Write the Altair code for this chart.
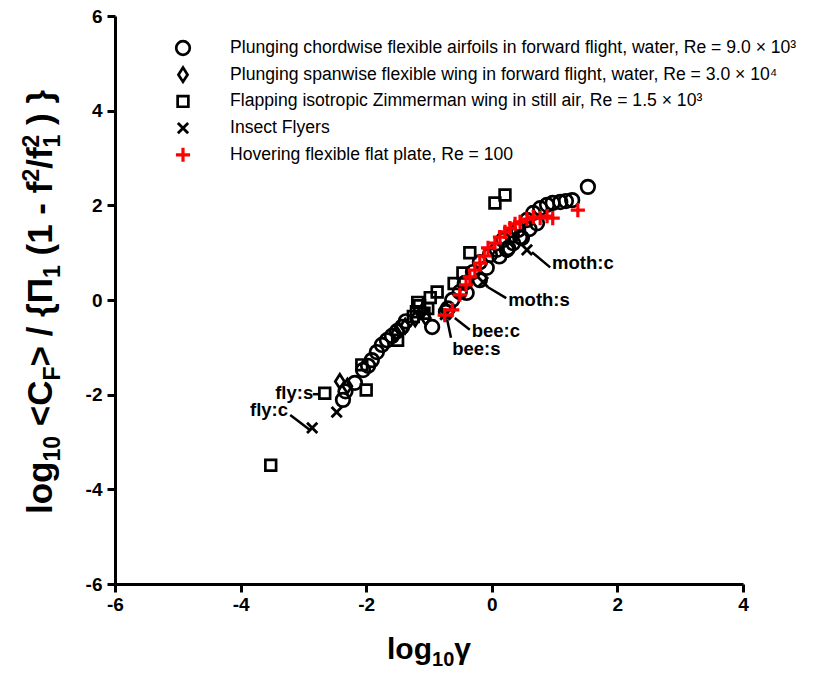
import altair as alt
import pandas as pd

# ---------------- data ----------------
x_ticks = [-6, -4, -2, 0, 2, 4]
y_ticks = [-6, -4, -2, 0, 2, 4, 6]

circ_x = [-2.37, -2.33, -2.18, -2.05, -1.97, -1.91, -1.83, -1.75, -1.67, -1.59, -1.51, -1.43,
          -1.37, -0.95, -0.73, -0.70, -0.63, -0.51, -0.43, -0.40, -0.30, -0.19, -0.19, -0.08,
          -0.03, 0.08, 0.12, 0.18, 0.24, 0.26, 0.32, 0.34, 0.42, 0.45, 0.48, 0.56, 0.60, 0.66,
          0.72, 0.77, 0.88, 0.97, 1.09, 1.18, 1.28, 1.53]
circ_y = [-2.11, -1.93, -1.75, -1.48, -1.39, -1.27, -1.10, -0.95, -0.85, -0.76, -0.66, -0.57,
          -0.45, -0.57, -0.25, -0.18, 0.00, 0.17, 0.36, 0.15, 0.59, 0.80, 0.42, 0.68,
          0.95, 1.06, 0.92, 1.27, 1.06, 1.10, 1.37, 1.20, 1.48, 1.33, 1.31, 1.69, 1.50, 1.84,
          1.62, 1.94, 2.01, 2.05, 2.07, 2.09, 2.11, 2.39]

dia_x = [-2.42, -2.30, -1.52, -1.38, -1.22, -1.10, -1.05]
dia_y = [-1.72, -1.82, -0.70, -0.55, -0.40, -0.22, -0.38]

sq_x = [-3.52, -2.66, -2.00, -2.07, -1.50, -1.25, -1.20, -1.15, -1.08, -1.02, -1.18, -0.98,
        -0.87, -0.60, -0.46, -0.35, 0.05, 0.21]
sq_y = [-3.49, -1.97, -1.90, -1.37, -0.85, -0.35, -0.25, -0.12, -0.28, -0.18, -0.05, 0.05,
        0.17, 0.35, 0.57, 1.00, 2.05, 2.22]

ins_x = [-2.86, -2.47, -0.72, -0.74, -0.14, 0.56]
ins_y = [-2.70, -2.37, -0.28, -0.31, 0.38, 1.06]

hov_x = [-0.75, -0.63, -0.51, -0.41, -0.35, -0.27, -0.19, -0.12, -0.06, 0.05, 0.13, 0.21,
         0.29, 0.37, 0.45, 0.56, 0.66, 0.77, 0.88, 0.97, 1.37]
hov_y = [-0.32, -0.21, 0.11, 0.32, 0.49, 0.63, 0.78, 0.93, 1.10, 1.20, 1.33, 1.44,
         1.52, 1.61, 1.65, 1.71, 1.75, 1.73, 1.77, 1.73, 1.90]

leg_labels = [
    "Plunging chordwise flexible airfoils in forward flight, water, Re = 9.0 \u00d7 10\u00b3",
    "Plunging spanwise flexible wing in forward flight, water, Re = 3.0 \u00d7 10\u2074",
    "Flapping isotropic Zimmerman wing in still air, Re = 1.5 \u00d7 10\u00b3",
    "Insect Flyers",
    "Hovering flexible flat plate, Re = 100",
]

ann_labels = ["moth:c", "moth:s", "bee:c", "bee:s", "fly:s", "fly:c"]
ann_x = [0.96, 0.26, -0.32, -0.63, -3.45, -3.85]
ann_y = [0.78, 0.00, -0.66, -1.04, -1.97, -2.32]
lead_x1 = [0.64, -0.06, -0.59, -0.71, -2.85, -3.21]
lead_y1 = [1.01, 0.27, -0.38, -0.42, -1.99, -2.43]
lead_x2 = [0.93, 0.23, -0.35, -0.65, -2.74, -2.89]
lead_y2 = [0.69, 0.04, -0.63, -0.80, -1.99, -2.75]

# ---------------- layout / style ----------------
FONT = "Liberation Sans"
W, H = 628, 568

xs = alt.Scale(domain=[-6, 4], nice=False, zero=False)
ys = alt.Scale(domain=[-6, 6], nice=False, zero=False)

axis_common = dict(title=None, grid=False, domainColor="black", domainWidth=3,
                   tickColor="black", tickWidth=3, tickSize=8, labelFont=FONT,
                   labelFontWeight="bold", labelFontSize=19, labelColor="black",
                   labelOverlap=False, labelFlush=False, labelExpr="'' + datum.value")
AX = alt.Axis(values=x_ticks, labelPadding=3, **axis_common)
AY = alt.Axis(values=y_ticks, labelPadding=5, **axis_common)

circ_style = dict(shape="circle", filled=False, color="black", size=185, strokeWidth=2.7, opacity=1)
dia_style = dict(shape="M0,-1.25L0.8,0L0,1.25L-0.8,0Z", filled=False, color="black", size=130,
                 strokeWidth=2.7, opacity=1)
sq_style = dict(shape="square", filled=False, color="black", size=115, strokeWidth=2.7, opacity=1)
x_style = dict(shape="M-1,-1L1,1M-1,1L1,-1", filled=False, color="black", size=105,
               strokeWidth=2.8, opacity=1)
plus_style = dict(shape="M-1,0L1,0M0,-1L0,1", filled=False, color="#ff0000", size=200,
                  strokeWidth=3.2, opacity=1)


def series(xv, yv, style):
    df = pd.DataFrame({"x": xv, "y": yv})
    return alt.Chart(df).mark_point(**style).encode(
        x=alt.X("x:Q", scale=xs, axis=AX), y=alt.Y("y:Q", scale=ys, axis=AY))


layers = [
    series(circ_x, circ_y, circ_style),
    series(dia_x, dia_y, dia_style),
    series(sq_x, sq_y, sq_style),
    series(ins_x, ins_y, x_style),
    series(hov_x, hov_y, plus_style),
]

# leader lines + annotation labels
lead_df = pd.DataFrame({"x": lead_x1, "y": lead_y1, "x2": lead_x2, "y2": lead_y2})
layers.append(alt.Chart(lead_df).mark_rule(color="black", strokeWidth=2.5).encode(
    x=alt.X("x:Q", scale=xs, axis=AX), y=alt.Y("y:Q", scale=ys, axis=AY),
    x2="x2:Q", y2="y2:Q"))
ann_df = pd.DataFrame({"t": ann_labels, "x": ann_x, "y": ann_y})
layers.append(alt.Chart(ann_df).mark_text(align="left", baseline="middle", font=FONT,
                                          fontWeight="bold", fontSize=18.5, color="black").encode(
    x=alt.X("x:Q", scale=xs, axis=AX), y=alt.Y("y:Q", scale=ys, axis=AY), text="t:N"))

one = pd.DataFrame({"a": [0]})

# legend (pixel positions in the plot area)
leg_rows = [32 + 26.7 * i for i in range(5)]
for style, ry, lab in zip([circ_style, dia_style, sq_style, x_style, plus_style], leg_rows, leg_labels):
    layers.append(alt.Chart(one).mark_point(**style).encode(x=alt.value(68), y=alt.value(ry)))
    layers.append(alt.Chart(one).mark_text(align="left", baseline="middle", font=FONT,
                                           fontSize=17.6, color="black", text=lab).encode(
        x=alt.value(115), y=alt.value(ry)))

# axis titles with sub/superscripts, composed piecewise
BOLD_W = {'l': 278, 'o': 611, 'g': 611, '1': 556, '0': 556, ' ': 278, '<': 584, 'C': 722,
          'F': 611, '>': 584, '/': 278, '{': 389, '\u03a0': 722, '(': 333, ')': 333, '-': 333,
          'f': 333, '2': 556, '}': 389, '\u03b3': 556}


def tw(s, size):
    return sum(BOLD_W.get(c, 556) for c in s) * size / 1000.0


def piece(t, px, py, fs, angle=0):
    kw = dict(align="left", baseline="alphabetic", font=FONT, fontWeight="bold",
              color="black", fontSize=fs, text=t)
    if angle:
        kw["angle"] = angle
    return alt.Chart(one).mark_text(**kw).encode(x=alt.value(px), y=alt.value(py))


# x title: log10 gamma
XS, XSUB = 30, 20
x_pieces = [("log", XS, 0), ("10", XSUB, 7), ("\u03b3", XS, 0)]
total = sum(tw(t, s) for t, s, _ in x_pieces)
cx = W / 2 - total / 2
for t, s, dy in x_pieces:
    layers.append(piece(t, cx, 643 + dy, s))
    cx += tw(t, s)

# y title: log10 <CF> / {Π1 (1 - f²/f1²) }
YS, YSUB = 35, 23
SUB, SUP = 8, -13
y_pieces = [("log", YS, 0, True), ("10", YSUB, SUB, True), (" <C", YS, 0, True),
            ("F", YSUB, SUB, True), ("> / {\u03a0", YS, 0, True), ("1", YSUB, SUB, True),
            (" (1 - f", YS, 0, True), ("2", YSUB, SUP, True), ("/f", YS, 0, True),
            ("1", YSUB, SUB, False), ("2", YSUB, SUP, True), (" ) }", YS, 0, True)]
ytotal = sum(tw(t, s) for t, s, _, adv in y_pieces if adv)
base_x = -63
pos = 286 + ytotal / 2
for t, s, dx, adv in y_pieces:
    lead = len(t) - len(t.lstrip(" "))
    layers.append(piece(t.strip(), base_x + dx, pos - tw(" " * lead, s), s, angle=270))
    if adv:
        pos -= tw(t, s)

chart = alt.layer(*layers).properties(
    width=W, height=H,
    autosize=alt.AutoSizeParams(type="none"),
    padding={"left": 107, "top": 8, "right": 75, "bottom": 85},
    background="white",
).configure_view(strokeWidth=0)

chart.save("out.html", embed_options={"renderer": "svg", "actions": False})
